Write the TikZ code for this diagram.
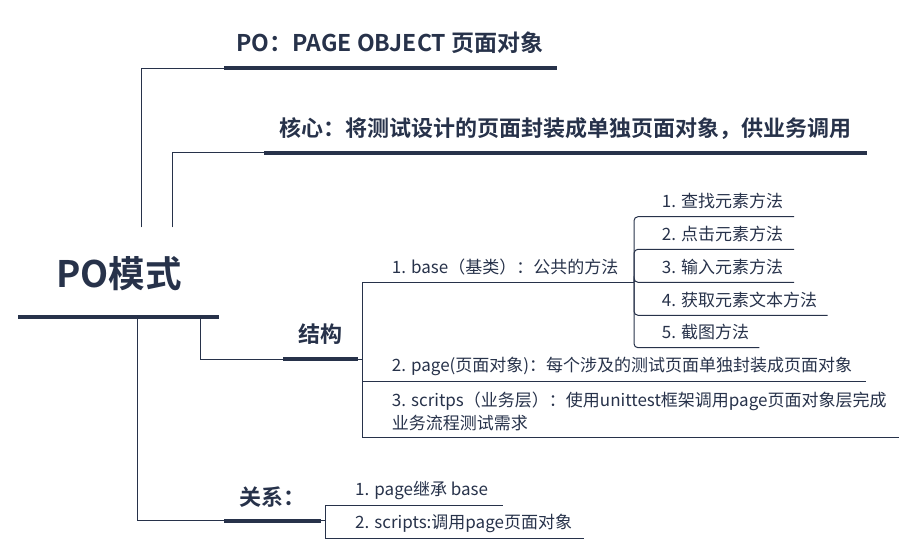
\documentclass[tikz,border=0pt]{standalone}
\usepackage{fontspec}
\setmainfont{Noto Sans CJK SC}[BoldFont={Noto Sans CJK SC Bold}]
\definecolor{navy}{HTML}{27324A}

\begin{document}
\begin{tikzpicture}[
        x=1pt,y=-1pt,
        line/.style={draw=navy,line width=1pt},
        bar/.style={draw=navy,line width=4pt},
        root/.style={font=\fontsize{36.5}{40}\selectfont\bfseries,text=navy},
        topic/.style={font=\fontsize{22}{24}\selectfont\bfseries,text=navy},
        item/.style={anchor=west,inner sep=0pt,align=left,
            font=\fontsize{17}{22.7}\selectfont,text=navy},
        ]
    \useasboundingbox (0,0) rectangle (916,554);

    % root
    \node [root] (po) at (119,274) {PO模式};
    \coordinate (pol) at (18,316.7);
    \coordinate (por) at (219.3,316.7);
    \draw [bar] (pol) -- (por);

    % topics
    \node [topic,font=\fontsize{23}{24}\selectfont\bfseries] (t1) at (390,43) {PO：PAGE OBJECT 页面对象};
    \coordinate (t1l) at (224,68);
    \coordinate (t1r) at (556.7,68);
    \node [topic] (t2) at (565,128.5) {核心：将测试设计的页面封装成单独页面对象，供业务调用};
    \coordinate (t2l) at (264,152.7);
    \coordinate (t2r) at (866.7,152.7);
    \node [topic] (s) at (320,334.3) {结构};
    \coordinate (sl) at (283.3,359);
    \coordinate (sr) at (357.7,359);
    \node [topic] (r) at (272.5,496.7) {关系：};
    \coordinate (rl) at (224.3,520.7);
    \coordinate (rr) at (320.7,520.7);
    \foreach \n in {t1,t2,s,r}
        \draw [bar] (\n l) -- (\n r);

    \coordinate (up1) at (141.7,227.3);
    \coordinate (up2) at (172.3,227.3);
    \coordinate (dn1) at (137.3,316.7);
    \coordinate (dn2) at (200.7,316.7);
    \draw [line] (up1) |- (t1l);
    \draw [line] (up2) |- (t2l);
    \draw [line] (dn2) |- (sl);
    \draw [line] (dn1) |- (rl);

    % structure
    \coordinate (sj) at (362.3,359);
    \coordinate (bj) at (362.3,282.3);
    \coordinate (be) at (634,282.3);
    \coordinate (pe) at (865.7,381.3);
    \coordinate (ce) at (899.3,437.3);
    \node [item] (b) at (391.7,267) {1. base（基类）：公共的方法};
    \node [item] (p) at (391.7,366.5) {2. page(页面对象)：每个涉及的测试页面单独封装成页面对象};
    \node [item] (c) at (391.7,411.4) {3. scritps（业务层）：使用unittest框架调用page页面对象层完成\\业务流程测试需求};
    \draw [line] (sr) -- (sj);
    \draw [line] (bj) -- (be);
    \draw [line] (bj) |- (pe);
    \draw [line] (bj) |- (ce);

    % base methods
    \foreach \i/\y/\e/\t in {
            1/216.7/794/查找元素方法,
            2/249.3/794/点击元素方法,
            3/282.3/794/输入元素方法,
            4/315.3/827.7/获取元素文本方法,
            5/347.7/759.3/截图方法}{
        \coordinate (b\i e) at (\e,\y);
        \node [item] (b\i) at (661.7,\y-15.3) {\i. \t};
        \draw [line,rounded corners=4pt] (be) |- (b\i e);
    }

    % relation
    \coordinate (rj) at (325.7,520.7);
    \coordinate (r1e) at (502.7,505.7);
    \coordinate (r2e) at (584.3,538.3);
    \node [item] (r1) at (355,490.7) {1. page继承 base};
    \node [item] (r2) at (355,523.3) {2. scripts:调用page页面对象};
    \draw [line] (rr) -- (rj);
    \draw [line] (rj) |- (r1e);
    \draw [line] (rj) |- (r2e);
\end{tikzpicture}
\end{document}
